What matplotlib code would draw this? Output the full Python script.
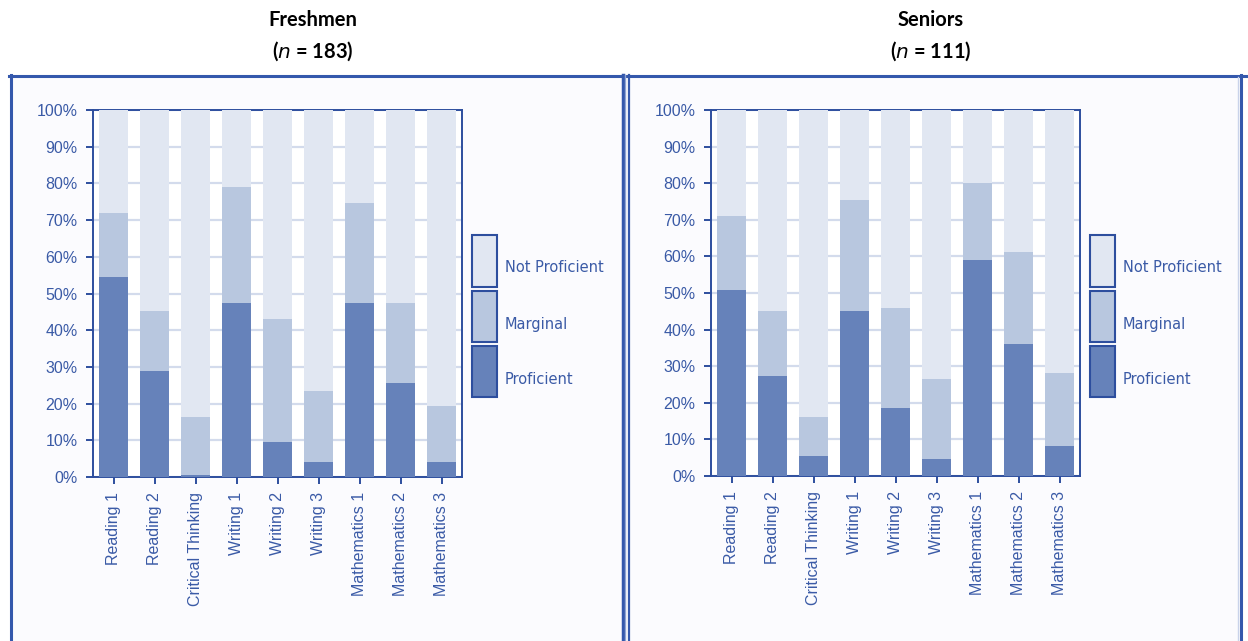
import matplotlib
matplotlib.use("Agg")
import matplotlib.pyplot as plt
from matplotlib.patches import Rectangle
from matplotlib.lines import Line2D
import numpy as np

categories = ["Reading 1", "Reading 2", "Critical Thinking", "Writing 1", "Writing 2",
              "Writing 3", "Mathematics 1", "Mathematics 2", "Mathematics 3"]
yticks = [0, 10, 20, 30, 40, 50, 60, 70, 80, 90, 100]
ytick_labels = ["0%", "10%", "20%", "30%", "40%", "50%", "60%", "70%", "80%", "90%", "100%"]
series_names = ["Not Proficient", "Marginal", "Proficient"]

fresh_proficient = [54.5, 28.9, 0.5, 47.4, 9.5, 4.1, 47.4, 25.6, 4.1]
fresh_marginal = [17.5, 16.3, 15.8, 31.6, 33.5, 19.3, 27.3, 21.8, 15.2]
senior_proficient = [50.7, 27.2, 5.4, 45.0, 18.5, 4.6, 58.9, 36.2, 8.2]
senior_marginal = [20.4, 17.8, 10.6, 30.5, 27.3, 21.8, 21.2, 25.1, 19.9]

panel_titles = ["Freshmen", "Seniors"]
panel_n = ["183", "111"]

C_PROF = "#6682BA"
C_MARG = "#B8C7DF"
C_NOT = "#E1E7F2"
C_AXIS = "#2D4E9E"
C_TEXT = "#3A5AA6"
C_FRAME = "#3458AC"
C_BG = "#FBFBFE"

W, H = 1248, 641
fig = plt.figure(figsize=(W / 100, H / 100), dpi=100)
fig.patch.set_facecolor("white")

def fx(px):
    return px / W

def fy(py):
    return 1 - py / H

# panel backgrounds
for x0, x1 in [(11, 622), (629, 1240)]:
    fig.add_artist(Rectangle((fx(x0), 0), fx(x1 - x0), fy(76), transform=fig.transFigure,
                             facecolor=C_BG, edgecolor="none", zorder=0))

# frame lines
def fline(xs, ys, lw=2.0, color=C_FRAME):
    fig.add_artist(Line2D([fx(x) for x in xs], [fy(y) for y in ys], transform=fig.transFigure,
                          color=color, lw=lw, zorder=5))

fline([9, 1248], [75.5, 75.5], lw=2.2)
fline([11, 11], [75, 641], lw=2.2)
fline([622.5, 622.5], [75, 641], lw=2.5)
fline([624.5, 624.5], [75, 641], lw=1.0, color="#8EA3D2")
fline([629, 629], [75, 641], lw=1.6)
fline([1240.5, 1240.5], [75, 641], lw=2.2)
fline([1238, 1238], [77, 641], lw=1.0, color="#C9D3EA")

panels = [
    dict(ax=(93, 110, 462, 477), prof=fresh_proficient, marg=fresh_marginal, cx=313, leg=472),
    dict(ax=(711, 110, 1080, 476), prof=senior_proficient, marg=senior_marginal, cx=931, leg=1090),
]

x = np.arange(len(categories))
for i, p in enumerate(panels):
    x0, y0, x1, y1 = p["ax"]
    ax = fig.add_axes([fx(x0), fy(y1), fx(x1 - x0), (y1 - y0) / H])
    ax.set_facecolor("white")
    prof = np.array(p["prof"])
    marg = np.array(p["marg"])
    notp = 100 - prof - marg
    w = 0.71
    ax.bar(x, prof, width=w, color=C_PROF, edgecolor="none", zorder=3)
    ax.bar(x, marg, width=w, bottom=prof, color=C_MARG, edgecolor="none", zorder=3)
    ax.bar(x, notp, width=w, bottom=prof + marg, color=C_NOT, edgecolor="none", zorder=3)
    ax.set_xlim(-0.5, len(categories) - 0.5)
    ax.set_ylim(0, 100)
    ax.set_yticks(yticks)
    ax.set_yticklabels(ytick_labels)
    ax.set_xticks(x)
    ax.set_xticklabels(categories, rotation=90)
    ax.yaxis.grid(True, color="#D3DBEC", lw=1.6, zorder=1)
    ax.set_axisbelow(True)
    for s in ax.spines.values():
        s.set_color(C_AXIS)
        s.set_linewidth(1.4)
    ax.tick_params(axis="both", colors=C_AXIS, labelcolor=C_TEXT, length=5, width=1.4,
                   labelsize=11.5, direction="out")
    ax.tick_params(axis="y", pad=6)
    ax.tick_params(axis="x", pad=6)
    for lab in ax.get_xticklabels() + ax.get_yticklabels():
        lab.set_fontfamily("Liberation Sans")

    # titles
    fig.text(fx(p["cx"]), fy(20), panel_titles[i], ha="center", va="center",
             fontsize=14.5, fontweight="bold", family="Lato", color="black")
    fig.text(fx(p["cx"]), fy(51), "($\\mathbf{\\it{n}}$ = " + panel_n[i] + ")", ha="center", va="center",
             fontsize=14.5, fontweight="bold", family="Lato", color="black")

    # legend
    lx = p["leg"]
    boxes = [(235, 287, C_NOT), (291, 342, C_MARG), (346, 397, C_PROF)]
    label_y = [268, 324, 379]
    for (by0, by1, col), name, ly in zip(boxes, series_names, label_y):
        fig.add_artist(Rectangle((fx(lx), fy(by1)), fx(25), (by1 - by0) / H,
                                 transform=fig.transFigure, facecolor=col,
                                 edgecolor=C_AXIS, lw=1.5, zorder=4))
        fig.text(fx(lx + 33), fy(ly), name, ha="left", va="center", fontsize=10.5,
                 family="DejaVu Sans", color=C_TEXT)

fig.savefig("out.png", dpi=100, facecolor=fig.get_facecolor())
